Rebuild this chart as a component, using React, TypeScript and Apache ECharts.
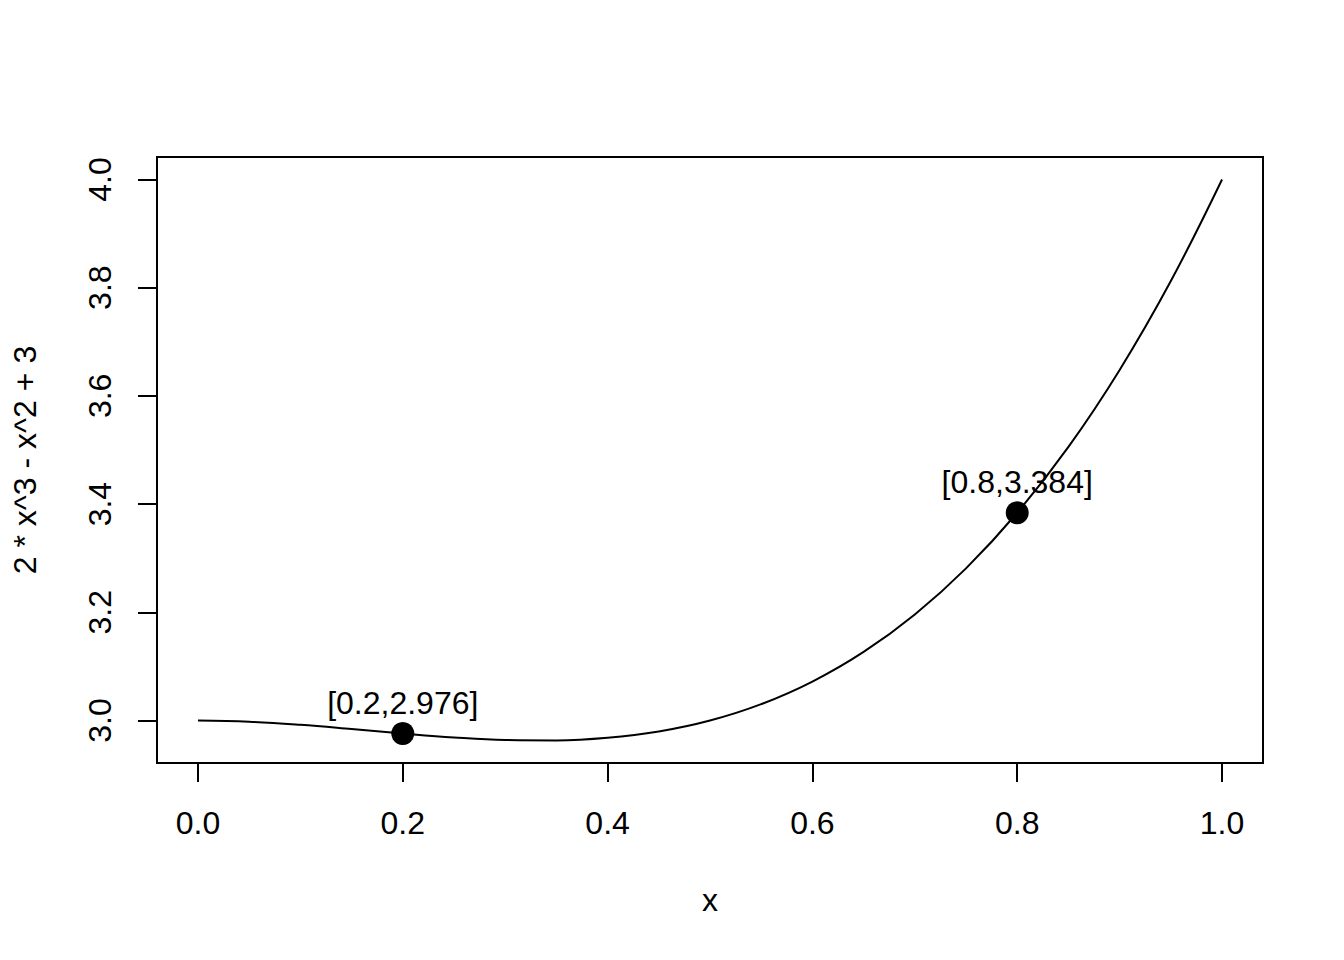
import React, { useEffect, useRef } from "react";
import * as echarts from "echarts";

// curve y = 2*x^3 - x^2 + 3, read at steps of 0.05
const curveX = [0, 0.05, 0.1, 0.15, 0.2, 0.25, 0.3, 0.35, 0.4, 0.45, 0.5, 0.55, 0.6, 0.65, 0.7, 0.75, 0.8, 0.85, 0.9, 0.95, 1.0];
const curveY = [3.0, 2.99775, 2.992, 2.98425, 2.976, 2.96875, 2.964, 2.96325, 2.968, 2.97975, 3.0, 3.03025, 3.072, 3.12675, 3.196, 3.28125, 3.384, 3.50575, 3.648, 3.81225, 4.0];

const pointX = [0.2, 0.8];
const pointY = [2.976, 3.384];
const pointLabels = ["[0.2,2.976]", "[0.8,3.384]"];

const xTicks = [0, 0.2, 0.4, 0.6, 0.8, 1.0];
const yTicks = [3.0, 3.2, 3.4, 3.6, 3.8, 4.0];

const xTitle = "x";
const yTitle = "2 * x^3 - x^2 + 3";

const FONT = "'Liberation Sans', Arial, Helvetica, sans-serif";

export default function App() {
  const ref = useRef<HTMLDivElement>(null);
  useEffect(() => {
    if (!ref.current) return;
    const chart = echarts.init(ref.current, undefined, { renderer: "svg" });
    chart.setOption({
      animation: false,
      backgroundColor: "#fff",
      textStyle: { fontFamily: FONT },
      grid: {
        left: 157,
        top: 157,
        right: 81,
        bottom: 197,
        show: true,
        borderColor: "#000",
        borderWidth: 2,
        backgroundColor: "transparent",
      },
      xAxis: {
        type: "value",
        min: -0.04,
        max: 1.04,
        axisLine: { show: false, onZero: false },
        splitLine: { show: false },
        axisTick: {
          show: true,
          inside: false,
          length: 19,
          customValues: xTicks,
          lineStyle: { color: "#000", width: 2 },
        },
        axisLabel: {
          show: true,
          customValues: xTicks,
          formatter: (v: number) => v.toFixed(1),
          color: "#000",
          fontSize: 32,
          fontFamily: FONT,
          verticalAlign: "middle",
          margin: 60,
        },
        name: xTitle,
        nameLocation: "middle",
        nameGap: 137,
        nameTextStyle: { color: "#000", fontSize: 32, fontFamily: FONT, verticalAlign: "middle" },
      },
      yAxis: {
        type: "value",
        min: 2.9215,
        max: 4.0415,
        axisLine: { show: false, onZero: false },
        splitLine: { show: false },
        axisTick: {
          show: true,
          inside: false,
          length: 19,
          customValues: yTicks,
          lineStyle: { color: "#000", width: 2 },
        },
        axisLabel: {
          show: true,
          customValues: yTicks,
          formatter: (v: number) => v.toFixed(1),
          color: "#000",
          fontSize: 32,
          fontFamily: FONT,
          rotate: 90,
          align: "center",
          verticalAlign: "middle",
          margin: 57,
        },
        name: yTitle,
        nameLocation: "middle",
        nameGap: 132,
        nameRotate: 90,
        nameTextStyle: { color: "#000", fontSize: 32, fontFamily: FONT, align: "center", verticalAlign: "middle" },
      },
      series: [
        {
          type: "line",
          data: curveX.map((x, i) => [x, curveY[i]]),
          smooth: 0.4,
          symbol: "none",
          lineStyle: { color: "#000", width: 2 },
          silent: true,
        },
        {
          type: "scatter",
          data: pointX.map((x, i) => [x, pointY[i]]),
          symbol: "circle",
          symbolSize: 23,
          itemStyle: { color: "#000", opacity: 1 },
          label: {
            show: true,
            position: "top",
            distance: 3,
            color: "#000",
            opacity: 1,
            fontSize: 32,
            fontFamily: FONT,
            formatter: (p: any) => pointLabels[p.dataIndex],
          },
        },
      ],
    });
    return () => chart.dispose();
  }, []);
  return (
    <div
      ref={ref}
      style={{ position: "fixed", left: 0, top: 0, width: 1344, height: 960, background: "#fff" }}
    />
  );
}
